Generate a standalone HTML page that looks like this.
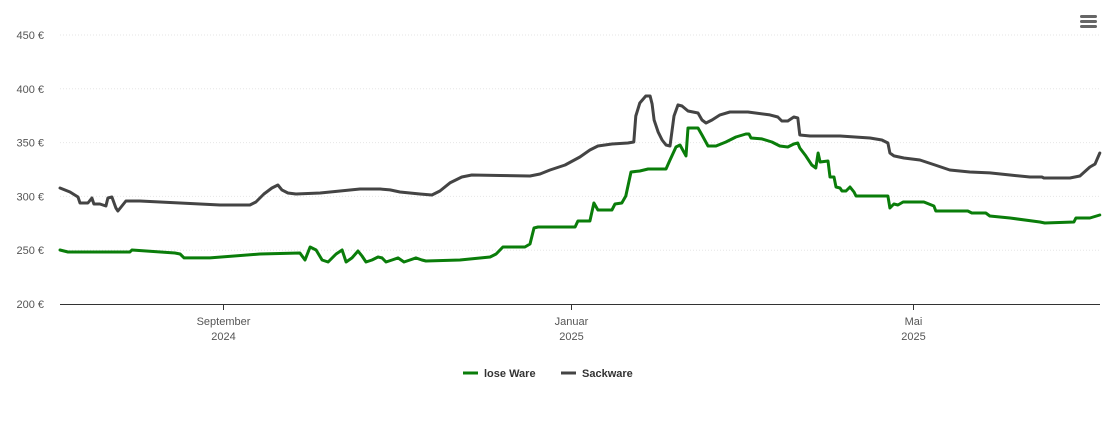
<!DOCTYPE html>
<html><head><meta charset="utf-8"><style>
body{margin:0;background:#fff;font-family:"Liberation Sans",sans-serif;}
svg{display:block}
</style></head><body>
<svg id="chart" width="1110" height="423" xmlns="http://www.w3.org/2000/svg">
<g id="grid"></g>
<g id="yaxis"></g>
<g id="xaxis"></g>
<g id="series"></g>
<g>
<rect x="1080" y="15" width="17" height="3" rx="1.5" fill="#666"/>
<rect x="1080" y="20" width="17" height="3" rx="1.5" fill="#666"/>
<rect x="1080" y="25" width="17" height="3" rx="1.5" fill="#666"/>
</g>
<g>
<g>
<line x1="463" y1="373" x2="478" y2="373" stroke="#0a7d0a" stroke-width="3"/>
<text x="484" y="377" font-size="11" font-weight="bold" fill="#333">lose Ware</text>
</g>
<g>
<line x1="561" y1="373" x2="576" y2="373" stroke="#444" stroke-width="3"/>
<text x="582" y="377" font-size="11" font-weight="bold" fill="#333">Sackware</text>
</g>
</g>
</svg>
<script>
// days since 2024-07-06, values in €
const yTicks=[200,250,300,350,400,450];
const xTickDays=[57,179,299];
const xTickMonths=["September","Januar","Mai"];
const xTickYears=["2024","2025","2025"];
const loseDays=[0,2.8,24.5,25.2,40.3,42.1,43.5,52.6,70.1,84.1,85.9,87.7,89.8,91.9,94,96.8,98.9,100.3,102.4,104.5,105.9,107.3,109.4,111.5,112.9,114.3,116.4,118.5,120.6,122.7,124.8,126.9,128.3,140.2,150.8,152.9,155.3,163,164.8,166.2,167.6,180.6,181.6,185.8,187.2,188.6,193.5,194.6,197,198.4,200.2,203.3,206.2,212.5,213.9,216,217.4,219.5,220.2,223.7,225.1,227.2,230,233.5,237,240.5,241.6,242.3,246.1,249.6,252.4,255.2,257.3,258.7,259.4,261.5,263.6,265,265.8,266.5,269.3,270,271.4,272.1,273.5,274.2,275.6,277,278.4,279.1,290.3,291,292.4,293.8,295.6,302.9,306.4,307.1,318.3,319.7,324.6,326,333.1,343.6,345.3,355.5,356.2,361.1,364.6];
const loseVals=[250.2,248.3,248.3,250.2,247.4,246.5,242.8,242.8,246.5,247.4,240.9,253,250.2,240.9,239,246.5,250.2,239,242.8,249.3,244.6,239,240.9,243.7,242.8,239,240.9,242.8,239,240.9,242.8,240.9,240,240.9,243.7,246.5,253,253,255.8,270.6,271.6,271.6,277.1,277.1,293.9,287.4,287.4,292.9,293.9,300.4,322.7,323.6,325.5,325.5,333.8,345.9,347.8,337.6,363.6,363.6,357.1,346.8,346.8,350.6,355.2,358,358,354.3,353.4,350.6,346.8,345.9,348.7,349.6,345,337.6,329.2,326.4,340.3,332,332.9,318,318,308.7,307.8,305,305,308.7,304.1,300.4,300.4,289.2,292.9,292,294.8,294.8,291.1,286.4,286.4,284.6,284.6,281.8,279.9,276.2,275.3,276.2,279.9,279.9,282.7];
const sackDays=[0,3.5,6.3,7,9.8,11.2,11.9,14,16.1,16.8,18.2,19.6,20.3,21.7,23.1,28,42.1,56.1,66.6,68.7,71.5,74.3,76.4,77.8,79.9,82.7,91.2,98.2,105.2,112.2,115.7,119.2,126.2,130.4,133.2,136.7,140.9,144.4,154.3,164.8,168.3,171.8,177.1,182.3,185.8,188.6,193.5,199.1,201.2,201.9,203.3,205.4,206.9,207.6,208.3,209.7,211.1,212.5,213.9,215.3,216.7,218.1,220.2,223.7,225.1,226.5,228.6,231.4,234.9,241.2,248.9,251.7,253.1,255.2,257.3,258.7,259.4,263,273.5,284,288.2,290.3,291,292.4,295.9,301.5,306.8,312,319,326,333.1,340.1,344.3,345,354.1,357.6,361.1,362.9,364.6];
const sackVals=[307.8,304.1,299.4,293.9,293.9,298.5,292.9,292.9,291.1,298.5,299.4,289.2,286.4,291.1,295.7,295.7,293.9,292,292,294.8,302.2,307.8,310.6,306,303.2,302.2,303.2,305,306.9,306.9,306,304.1,302.2,301.3,305,312.5,318,319.9,319.4,319,320.8,324.5,329.2,336.6,343.1,346.8,348.7,349.6,350.6,374.7,386.8,393.3,393.3,385.9,371,359.9,352.4,347.8,346.8,374.7,385,384,379.4,377.5,371,368.2,371,375.7,378.4,378.4,375.7,373.8,370.1,370.1,373.8,372.9,357.1,356.1,356.1,354.3,352.4,349.6,340.3,337.6,335.7,333.8,329.2,324.5,322.7,321.8,319.9,318,318,317.1,317.1,319,327.3,330,340.3];

const NS="http://www.w3.org/2000/svg";
const xS=d=>60+d*2.852;
const yS=v=>304-(v-200)*1.076;
function mk(tag,attrs,parent){const e=document.createElementNS(NS,tag);for(const k in attrs)e.setAttribute(k,attrs[k]);parent.appendChild(e);return e;}
const grid=document.getElementById('grid'),ya=document.getElementById('yaxis'),xa=document.getElementById('xaxis'),ser=document.getElementById('series');
yTicks.forEach(v=>{
  if(v>200){const l=mk('line',{x1:60,x2:1100,y1:yS(v),y2:yS(v),stroke:'#e6e6e6','stroke-width':1,'stroke-dasharray':'1,2'},grid);
  
  }
  const t=mk('text',{x:44,y:yS(v)+4,'text-anchor':'end','font-size':11,fill:'#555'},ya);
  
  
  t.textContent=v+' €';
});
const ax=mk('line',{x1:60,x2:1100,y1:304.5,y2:304.5,stroke:'#333','stroke-width':1},xa);


xTickDays.forEach((d,i)=>{
  const x=Math.round(xS(d))+0.5;
  const tk=mk('line',{x1:x,x2:x,y1:304,y2:310,stroke:'#333'},xa);
  
  
  const t=mk('text',{x:x,y:325,'text-anchor':'middle','font-size':11,fill:'#555'},xa);
  
  
  t.textContent=xTickMonths[i];
  const t2=mk('text',{x:x,y:340,'text-anchor':'middle','font-size':11,fill:'#555'},xa);
  
  
  t2.textContent=xTickYears[i];
});
function line(days,vals,color,name){
  const d=days.map((dd,i)=>(i?'L':'M')+xS(dd).toFixed(1)+','+yS(vals[i]).toFixed(1)).join(' ');
  const p=mk('path',{d:d,fill:'none',stroke:color,'stroke-width':3,'stroke-linejoin':'round','stroke-linecap':'round'},ser);
  
  
}
line(sackDays,sackVals,'#444','line-sackware');
line(loseDays,loseVals,'#0a7d0a','line-lose-ware');
</script>
</body></html>
